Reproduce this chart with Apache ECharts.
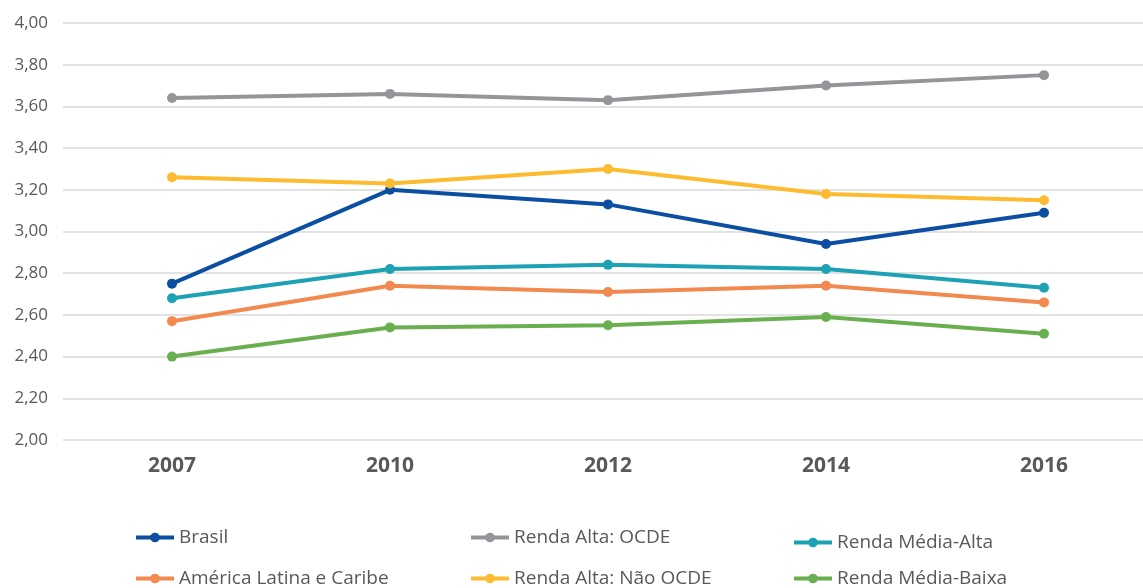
<!DOCTYPE html>
<html><head><meta charset="utf-8">
<script src="https://cdn.jsdelivr.net/npm/echarts@6/dist/echarts.min.js"></script>
<style>html,body{margin:0;padding:0;background:#fff}#c{width:1143px;height:588px}</style>
</head><body><div id="c"></div>
<script>
const categories = ['2007','2010','2012','2014','2016'];
const brasil = [2.75, 3.20, 3.13, 2.94, 3.09];
const rendaAltaOCDE = [3.64, 3.66, 3.63, 3.70, 3.75];
const rendaMediaAlta = [2.68, 2.82, 2.84, 2.82, 2.73];
const americaLatina = [2.57, 2.74, 2.71, 2.74, 2.66];
const rendaAltaNaoOCDE = [3.26, 3.23, 3.30, 3.18, 3.15];
const rendaMediaBaixa = [2.40, 2.54, 2.55, 2.59, 2.51];

const seriesDefs = [
  {name:'Brasil', data:brasil, color:'#0B4EA2', lx:134, ly:528},
  {name:'Renda Alta: OCDE', data:rendaAltaOCDE, color:'#939598', lx:469, ly:528},
  {name:'Renda Média-Alta', data:rendaMediaAlta, color:'#1DA1B5', lx:792, ly:533},
  {name:'América Latina e Caribe', data:americaLatina, color:'#F28A4F', lx:134, ly:569},
  {name:'Renda Alta: Não OCDE', data:rendaAltaNaoOCDE, color:'#FDBB30', lx:469, ly:569},
  {name:'Renda Média-Baixa', data:rendaMediaBaixa, color:'#6AAF4F', lx:792, ly:569}
];
const font = '"Open Sans", "Liberation Sans", sans-serif';
const chart = echarts.init(document.getElementById('c'));
chart.setOption({
  animation:false,
  textStyle:{fontFamily:font},
  grid:{left:63, width:1090, top:23, bottom:148, containLabel:false, outerBoundsMode:'none'},
  xAxis:{type:'category', data:categories, boundaryGap:true,
    axisLine:{show:false}, axisTick:{show:false},
    axisLabel:{color:'#595959', fontSize:21, fontWeight:'bold', margin:16, fontFamily:font}},
  yAxis:{type:'value', min:2, max:4, interval:0.2,
    axisLine:{show:false}, axisTick:{show:false},
    splitLine:{lineStyle:{color:'#D9D9D9', width:1.5}},
    axisLabel:{color:'#595959', fontSize:17, margin:15, fontFamily:font,
      formatter:v=>v.toFixed(2).replace('.',',')}},
  legend: seriesDefs.map(s=>({data:[s.name], left:s.lx, top:s.ly, padding:0, itemWidth:38, itemHeight:12,
    itemGap:0, lineStyle:{width:4}, textStyle:{color:'#595959', fontSize:19, fontFamily:font}})),
  series: seriesDefs.map(s=>({name:s.name, type:'line', data:s.data, symbol:'circle', symbolSize:10,
    lineStyle:{width:4, color:s.color}, itemStyle:{color:s.color}}))
});
</script></body></html>
